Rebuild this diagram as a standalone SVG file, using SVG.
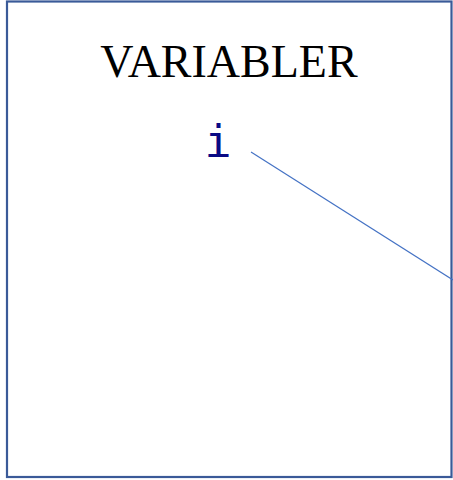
<svg xmlns="http://www.w3.org/2000/svg" width="453" height="480" viewBox="0 0 453 480">
<style>
.frame{fill:#ffffff;stroke:#3A5A98;stroke-width:2.2}
.title{font-family:"Liberation Serif","Times New Roman",serif;font-size:46px;fill:#000000}
.var{font-family:"DejaVu Sans Mono","Liberation Mono",monospace;font-size:45px;fill:#0A0A85}
.conn{stroke:#4472C4;stroke-width:1.2;fill:none}
</style>
<g id="frame">
<rect class="frame" x="7" y="1.5" width="444.5" height="475.5"/>
<text class="title" x="229" y="77" text-anchor="middle">VARIABLER</text>
</g>
<g id="var-i">
<text class="var" x="218" y="157" text-anchor="middle">i</text>
</g>
<g id="connectors">
<line class="conn" x1="251" y1="152" x2="453" y2="280"/>
</g>
</svg>
